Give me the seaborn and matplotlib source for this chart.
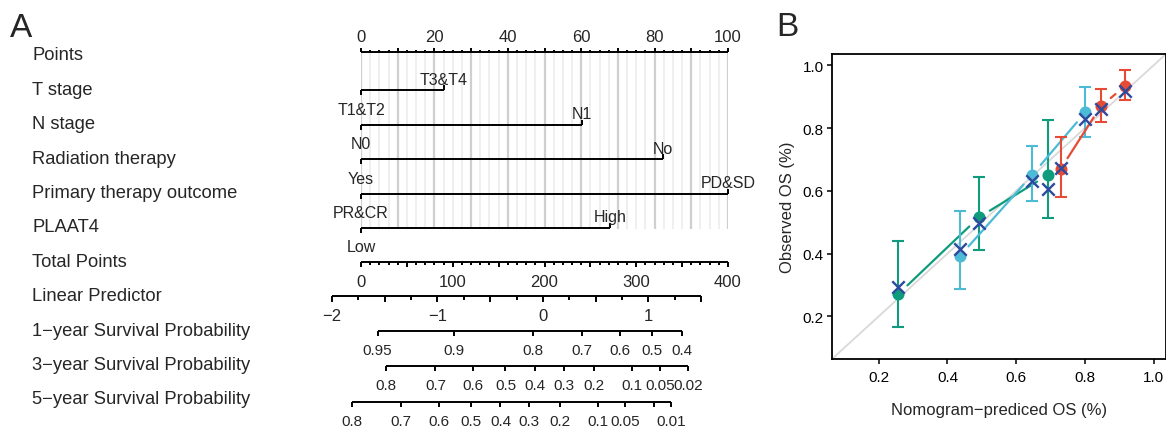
import numpy as np
import pandas as pd
import seaborn as sns
import matplotlib.pyplot as plt

# ---------------- panel A: nomogram ----------------
row_labels = ["Points", "T stage", "N stage", "Radiation therapy",
              "Primary therapy outcome", "PLAAT4", "Total Points",
              "Linear Predictor", "1\u2212year Survival Probability",
              "3\u2212year Survival Probability", "5\u2212year Survival Probability"]

var_low = ["T1&T2", "N0", "Yes", "PR&CR", "Low"]
var_high = ["T3&T4", "N1", "No", "PD&SD", "High"]
var_points = [22.6, 60.2, 82.3, 100.0, 67.8]

lp_at_zero = -1.725     # linear predictor at 0 total points
lp_per_point = 0.0087   # change of linear predictor per total point
lp_range = [-2.0, 1.5]
lp_labels = [-2, -1, 0, 1]

surv_base = [0.782, 0.372, 0.254]   # 1/3/5-year survival at linear predictor 0
surv_ticks = [
    [0.95, 0.9, 0.8, 0.7, 0.6, 0.5, 0.4],
    [0.8, 0.7, 0.6, 0.5, 0.4, 0.3, 0.2, 0.1, 0.05, 0.02],
    [0.8, 0.7, 0.6, 0.5, 0.4, 0.3, 0.2, 0.1, 0.05, 0.02, 0.01],
]
surv_labels = [
    ["0.95", "0.9", "0.8", "0.7", "0.6", "0.5", "0.4"],
    ["0.8", "0.7", "0.6", "0.5", "0.4", "0.3", "0.2", "0.1", "0.05", "0.02"],
    ["0.8", "0.7", "0.6", "0.5", "0.4", "0.3", "0.2", "0.1", "0.05", "", "0.01"],
]

# ---------------- panel B: calibration ----------------
pred_1y = [0.729, 0.846, 0.918]
obs_1y = [0.669, 0.869, 0.935]
lo_1y = [0.579, 0.818, 0.889]
hi_1y = [0.770, 0.924, 0.986]
corr_1y = [0.672, 0.862, 0.919]

pred_3y = [0.436, 0.647, 0.801]
obs_3y = [0.392, 0.651, 0.850]
lo_3y = [0.288, 0.566, 0.772]
hi_3y = [0.535, 0.743, 0.931]
corr_3y = [0.414, 0.632, 0.830]

pred_5y = [0.256, 0.491, 0.693]
obs_5y = [0.270, 0.515, 0.651]
lo_5y = [0.166, 0.411, 0.513]
hi_5y = [0.440, 0.644, 0.825]
corr_5y = [0.292, 0.499, 0.605]

groups = ["5-year", "3-year", "1-year"]
colors = {"1-year": "#E64B35", "3-year": "#4DBBD5", "5-year": "#0F9C7C"}
x_blue = "#2E4A9E"

cal = pd.concat([
    pd.DataFrame({"group": g, "pred": p, "obs": o, "lo": l, "hi": h, "corr": c})
    for g, p, o, l, h, c in [
        ("1-year", pred_1y, obs_1y, lo_1y, hi_1y, corr_1y),
        ("3-year", pred_3y, obs_3y, lo_3y, hi_3y, corr_3y),
        ("5-year", pred_5y, obs_5y, lo_5y, hi_5y, corr_5y),
    ]
], ignore_index=True)

sns.set_theme(style="white")
plt.rcParams["font.family"] = ["Liberation Sans", "DejaVu Sans"]

W, H = 1166, 431
fig = plt.figure(figsize=(W / 100, H / 100), dpi=100)


def box(x0, y0, x1, y1):
    return [x0 / W, 1 - y1 / H, (x1 - x0) / W, (y1 - y0) / H]


ax = fig.add_axes(box(361, 0, 728, H))
ax.set_xlim(0, 100)
ax.set_ylim(H, 0)
ax.axis("off")

fs_tick = 12
fs_level = 11.5
fs_surv = 11
row_y = 56 + 34.4 * np.arange(len(row_labels))
for lab, y in zip(row_labels, row_y):
    fig.text(32 / W, 1 - y / H, lab, ha="left", va="center", fontsize=13.2)

k = dict(color="black", lw=1.4, clip_on=False)

# Points scale + grid
pt_ticks = np.arange(0, 100.1, 2.5)
major = pt_ticks % 10 == 0
y0 = row_y[0] - 3
ax.vlines(pt_ticks[~major], y0, row_y[5] + 2, color="#ececec", lw=1.2, zorder=0)
ax.vlines(pt_ticks[major], y0, row_y[5] + 2, color="#cfcfcf", lw=1.6, zorder=0)
ax.hlines(y0, 0, 100, **k)
ax.vlines(pt_ticks, y0, y0 - np.where(major, 4.5, 2.5), **k)
for v in range(0, 101, 20):
    ax.text(v, y0 - 16, str(v), ha="center", va="center", fontsize=fs_tick)

# variable rows
for i, (lo, hi, p) in enumerate(zip(var_low, var_high, var_points)):
    y = row_y[i + 1] + 1
    ax.hlines(y, 0, p, **k)
    ax.vlines(0, y, y + 5, **k)
    ax.vlines(p, y, y - 5, **k)
    ax.text(0, y + 19, lo, ha="center", va="center", fontsize=fs_level)
    ax.text(p, y - 11, hi, ha="center", va="center", fontsize=fs_level)

# Total points
tot = np.arange(0, 401, 10)
y = row_y[6] + 1
ax.hlines(y, 0, 100, **k)
ax.vlines(tot / 4, y, y + np.where(tot % 50 == 0, 5, 3), **k)
for v in range(0, 401, 100):
    ax.text(v / 4, y + 19, str(v), ha="center", va="center", fontsize=fs_tick)


def lp_to_x(lp):
    return (np.asarray(lp, dtype=float) - lp_at_zero) / lp_per_point / 4


# Linear predictor
lp_grid = np.arange(lp_range[0], lp_range[1] + 0.01, 0.25)
y = row_y[7]
ax.hlines(y, lp_to_x(lp_range[0]), lp_to_x(lp_range[1]), **k)
ax.vlines(lp_to_x(lp_grid), y, y + np.where(lp_grid % 0.5 == 0, 6, 4), **k)
for v in lp_labels:
    ax.text(lp_to_x(v), y + 20, str(v).replace("-", "\u2212"),
            ha="center", va="center", fontsize=fs_tick)

# Survival probabilities
for j, (base, tks, labs) in enumerate(zip(surv_base, surv_ticks, surv_labels)):
    tks = np.array(tks)
    xs = lp_to_x(np.log(-np.log(tks)) - np.log(-np.log(base)))
    y = row_y[8 + j] + (1 if j < 2 else 3)
    ax.hlines(y, xs.min(), xs.max(), **k)
    ax.vlines(xs, y, y + 5, **k)
    for x, s in zip(xs, labs):
        ax.text(x, y + 19, s, ha="center", va="center", fontsize=fs_surv)

fig.text(10 / W, 1 - 37 / H, "A", fontsize=24, va="baseline", ha="left")

# ---------------- panel B ----------------
axB = fig.add_axes(box(832, 55, 1166, 360))
lim = (0.064, 1.036)
axB.set_xlim(lim)
axB.set_ylim(lim)
axB.plot([0, 1.2], [0, 1.2], color="#d9d9d9", lw=1.3, zorder=0)


def gapped(ax, xs, ys, gap):
    tr = ax.transData
    inv = tr.inverted()
    pts = tr.transform(np.column_stack([xs, ys]))
    out = []
    for p, q in zip(pts[:-1], pts[1:]):
        u = (q - p) / np.hypot(*(q - p))
        out.append(inv.transform([p + u * gap, q - u * gap]))
    return out


for g in groups:
    d = cal[cal.group == g]
    c = colors[g]
    for seg in gapped(axB, d.pred.values, d.obs.values, 13):
        axB.plot(seg[:, 0], seg[:, 1], color=c, lw=1.6, zorder=2)
    axB.errorbar(d.pred, d.obs, yerr=[d.obs - d.lo, d.hi - d.obs], fmt="none",
                 ecolor=c, elinewidth=1.5, capsize=4, capthick=1.5, zorder=2)
    sns.scatterplot(data=d, x="pred", y="obs", color=c, s=75, linewidth=0,
                    ax=axB, legend=False, zorder=3)
    sns.scatterplot(data=d, x="pred", y="corr", color=x_blue, marker="x", s=80,
                    linewidth=1.7, ax=axB, legend=False, zorder=4)

ticks = [0.2, 0.4, 0.6, 0.8, 1.0]
axB.set_xticks(ticks)
axB.set_yticks(ticks)
axB.set_xticklabels([f"{t:.1f}" for t in ticks])
axB.set_yticklabels([f"{t:.1f}" for t in ticks])
axB.tick_params(bottom=True, left=True, direction="out", length=3.6, width=1.1,
                color="black", labelsize=11, labelcolor="black")
axB.tick_params(axis="x", pad=4.5)
axB.tick_params(axis="y", pad=2.5)
for sp in axB.spines.values():
    sp.set_color("black")
    sp.set_linewidth(1.3)
axB.set_xlabel("Nomogram\u2212prediced OS (%)", fontsize=12)
axB.set_ylabel("Observed OS (%)", fontsize=12)
axB.xaxis.set_label_coords(0.5, -0.141)
axB.yaxis.set_label_coords(-0.111, 0.5)

fig.text(776 / W, 1 - 36 / H, "B", fontsize=24, va="baseline", ha="left")

fig.savefig("out.png", dpi=100)
